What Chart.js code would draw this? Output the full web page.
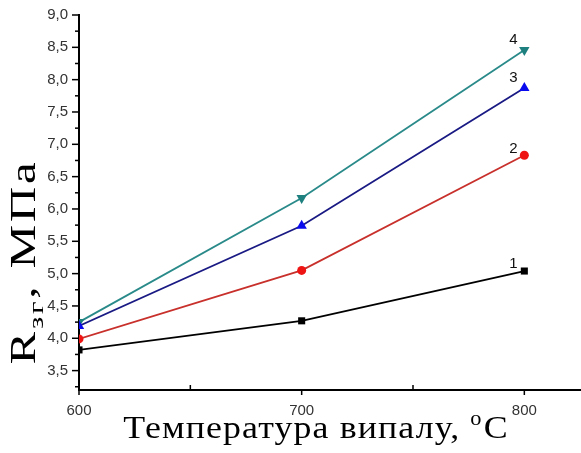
<!DOCTYPE html>
<html>
<head>
<meta charset="utf-8">
<script src="https://cdn.jsdelivr.net/npm/chart.js@4"></script>
<style>
  html, body { margin: 0; padding: 0; background: #fff; }
  #wrap { width: 581px; height: 453px; }
</style>
</head>
<body>
<div id="wrap"><canvas id="chart" width="581" height="453"></canvas></div>
<script>
// data
const temps = [600, 700, 800];
const curve1 = [3.82, 4.27, 5.04];
const curve2 = [3.99, 5.05, 6.83];
const curve3 = [4.19, 5.74, 7.87];
const curve4 = [4.25, 6.17, 8.46];
const curveNames = ['1', '2', '3', '4'];
const xTicks = [600, 700, 800];
const yTicks = [3.5, 4.0, 4.5, 5.0, 5.5, 6.0, 6.5, 7.0, 7.5, 8.0, 8.5, 9.0];

const toPoints = (ys) => temps.map((t, i) => ({ x: t, y: ys[i] }));

// axis titles (with sub/superscripts) + end labels + minor ticks
const extras = {
    id: 'extras',
    afterDraw(chart) {
        const ctx = chart.ctx;
        const xs = chart.scales.x, ys = chart.scales.y;
        const area = chart.chartArea;
        ctx.save();

        // ticks, outward on y, inward on x
        ctx.strokeStyle = '#000';
        ctx.lineWidth = 1.5;
        for (let v = 3.25; v <= 9.001; v += 0.25) {
            const py = ys.getPixelForValue(v);
            const major = Math.abs(v * 2 - Math.round(v * 2)) < 0.01;
            ctx.beginPath();
            ctx.moveTo(area.left, py);
            ctx.lineTo(area.left - (major ? 7 : 4), py);
            ctx.stroke();
        }
        for (let v = 600; v <= 800; v += 50) {
            const px = xs.getPixelForValue(v);
            ctx.beginPath();
            ctx.moveTo(px, area.bottom);
            ctx.lineTo(px, area.bottom - (v % 100 === 0 ? 0 : 5));
            ctx.lineTo(px, area.bottom + (v % 100 === 0 ? 5 : 0));
            ctx.stroke();
        }

        // curve numbers
        ctx.fillStyle = '#111';
        ctx.font = '15px "Liberation Sans", Arial, sans-serif';
        ctx.textAlign = 'center';
        ctx.textBaseline = 'middle';
        chart.data.datasets.forEach((ds, i) => {
            const last = ds.data[ds.data.length - 1];
            const px = xs.getPixelForValue(last.x);
            const py = ys.getPixelForValue(last.y);
            const dy = i === 0 ? -7 : (i === 1 ? -6 : -10);
            ctx.fillText(curveNames[i], px - 11, py + dy);
        });

        // x title (slightly stretched, like the original)
        ctx.fillStyle = '#000';
        ctx.textBaseline = 'alphabetic';
        ctx.textAlign = 'left';
        ctx.letterSpacing = '1px';
        const big = '32px "Liberation Serif", "Times New Roman", serif';
        const small = '20px "Liberation Serif", "Times New Roman", serif';
        const p1 = 'Температура випалу, ';
        ctx.font = big;
        const w1 = ctx.measureText(p1).width;
        ctx.font = small;
        const w2 = ctx.measureText('o').width;
        ctx.font = big;
        const w3 = ctx.measureText('C').width;
        ctx.save();
        ctx.translate(316, 438);
        ctx.scale(1.12, 1);
        let x0 = -(w1 + w2 + w3 + 1) / 2;
        ctx.fillText(p1, x0, 0);
        ctx.font = small;
        ctx.fillText('o', x0 + w1, -13);
        ctx.font = big;
        ctx.fillText('C', x0 + w1 + w2 + 1, 0);
        ctx.restore();

        // y title, rotated and stretched
        ctx.translate(35, 262);
        ctx.rotate(-Math.PI / 2);
        ctx.scale(1.4, 1);
        ctx.letterSpacing = '2px';
        const yb = '35px "Liberation Serif", "Times New Roman", serif';
        const ysm = '22px "Liberation Serif", "Times New Roman", serif';
        ctx.font = yb;
        const a = ctx.measureText('R').width;
        ctx.font = ysm;
        const b = ctx.measureText('зг').width;
        ctx.font = yb;
        const c = ctx.measureText(', МПа').width;
        let s = -(a + b + c) / 2;
        ctx.fillText('R', s, 0);
        ctx.font = ysm;
        ctx.fillText('зг', s + a, 8);
        ctx.font = yb;
        ctx.fillText(', МПа', s + a + b, 0);
        ctx.restore();
    }
};

const ctx = document.getElementById('chart');
new Chart(ctx, {
    type: 'line',
    data: {
        datasets: [
            { label: '1', data: toPoints(curve1), borderColor: '#000000', backgroundColor: '#000000',
              pointStyle: 'rect', pointRadius: 5 },
            { label: '2', data: toPoints(curve2), borderColor: '#c8302c', backgroundColor: '#ee1414',
              pointStyle: 'circle', pointRadius: 4.5 },
            { label: '3', data: toPoints(curve3), borderColor: '#1a1a84', backgroundColor: '#0a0aee',
              pointStyle: 'triangle', pointRadius: 6 },
            { label: '4', data: toPoints(curve4), borderColor: '#2a8a8a', backgroundColor: '#1f8080',
              pointStyle: 'triangle', pointRotation: 180, pointRadius: 6 }
        ].map(d => Object.assign(d, { borderWidth: 1.8, pointBorderWidth: 0, fill: false, tension: 0 }))
    },
    options: {
        responsive: false,
        animation: false,
        layout: { autoPadding: false, padding: { top: 15, right: 1, left: 0, bottom: 0 } },
        plugins: { legend: { display: false }, tooltip: { enabled: false } },
        scales: {
            x: {
                type: 'linear',
                min: 600,
                max: 825,
                afterBuildTicks: (scale) => { scale.ticks = xTicks.map(v => ({ value: v })); },
                afterFit: (scale) => { scale.height = 63; },
                grid: { display: false },
                border: { display: true, color: '#000', width: 2 },
                ticks: {
                    color: '#333',
                    padding: 4,
                    maxRotation: 0,
                    font: { family: '"Liberation Sans", Arial, sans-serif', size: 15 }
                }
            },
            y: {
                min: 3.2,
                max: 9.0,
                afterBuildTicks: (scale) => { scale.ticks = yTicks.map(v => ({ value: v })); },
                afterFit: (scale) => { scale.width = 79; },
                grid: { display: false },
                border: { display: true, color: '#000', width: 2 },
                ticks: {
                    color: '#333',
                    padding: 3,
                    font: { family: '"Liberation Sans", Arial, sans-serif', size: 15 },
                    callback: (v) => Number(v).toFixed(1).replace('.', ',')
                }
            }
        }
    },
    plugins: [extras]
});
</script>
</body>
</html>
